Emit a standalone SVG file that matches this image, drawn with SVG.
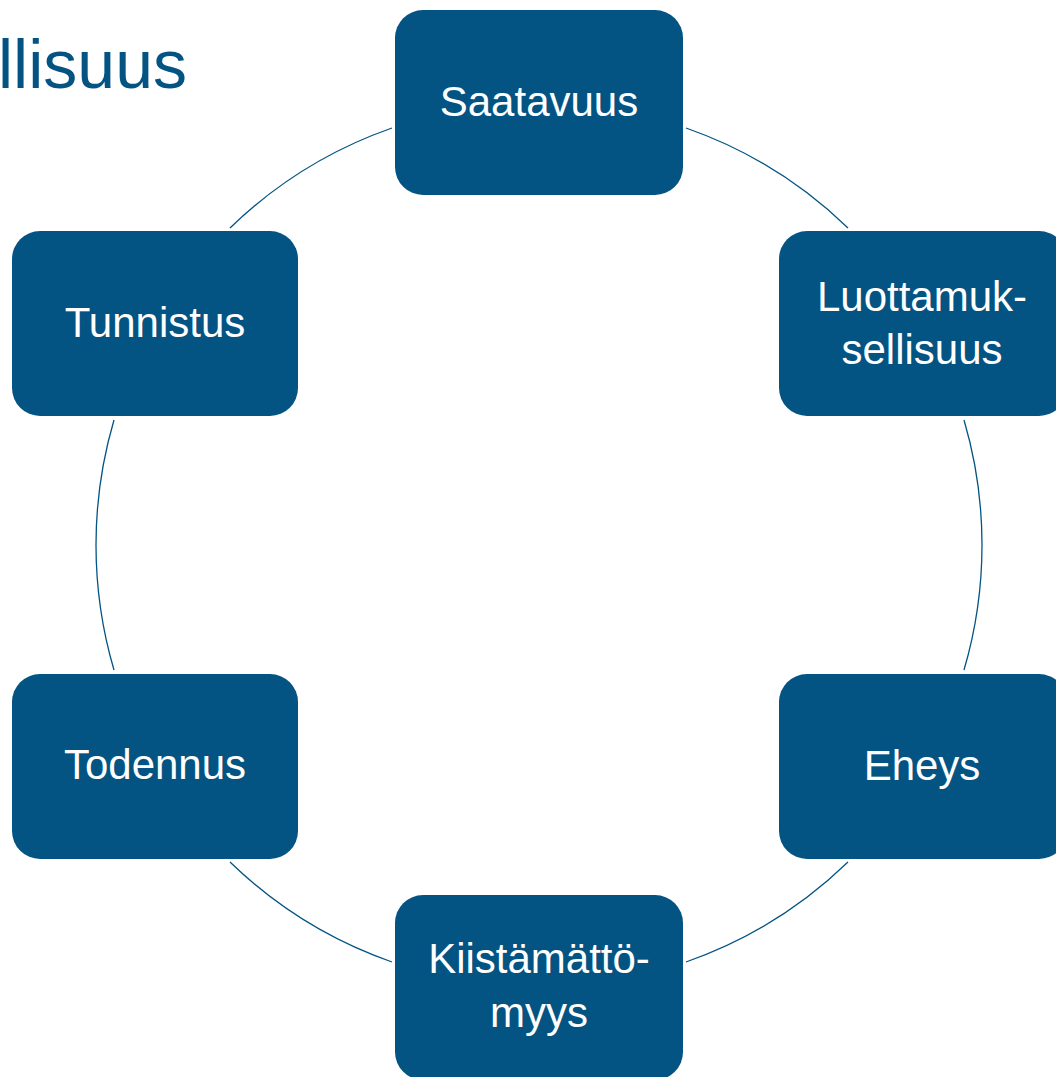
<svg xmlns="http://www.w3.org/2000/svg" width="1056" height="1077" viewBox="0 0 1056 1077">
<style>
.box{fill:#035483;}
.lbl{fill:#ffffff;font-family:"Liberation Sans",Arial,sans-serif;font-size:42px;text-anchor:middle;}
.arc{fill:none;stroke:#035483;stroke-width:1.3;}
.title{fill:#035483;font-family:"Liberation Sans",Arial,sans-serif;font-size:68px;}
</style>
<rect width="1056" height="1077" fill="#ffffff"/>
<text class="title" x="-2" y="88">llisuus</text>
<g id="connectors">
<path class="arc" d="M686,128 A443,443 0 0 1 848,228"/>
<path class="arc" d="M964,420 A443,443 0 0 1 964,670"/>
<path class="arc" d="M848,862 A443,443 0 0 1 686,962"/>
<path class="arc" d="M392,962 A443,443 0 0 1 230,862"/>
<path class="arc" d="M114,670 A443,443 0 0 1 114,420"/>
<path class="arc" d="M230,228 A443,443 0 0 1 392,128"/>
</g>
<g id="saatavuus">
<rect class="box" x="395" y="10" width="288" height="185" rx="28"/>
<text class="lbl" x="539" y="116">Saatavuus</text>
</g>
<g id="luottamuksellisuus">
<rect class="box" x="779" y="231" width="288" height="185" rx="28"/>
<text class="lbl" x="922" y="311">Luottamuk-</text>
<text class="lbl" x="922" y="364">sellisuus</text>
</g>
<g id="eheys">
<rect class="box" x="779" y="674" width="288" height="185" rx="28"/>
<text class="lbl" x="922" y="780">Eheys</text>
</g>
<g id="kiistamattomyys">
<rect class="box" x="395" y="895" width="288" height="185" rx="28"/>
<text class="lbl" x="539" y="973">Kiistämättö-</text>
<text class="lbl" x="539" y="1027">myys</text>
</g>
<g id="todennus">
<rect class="box" x="12" y="674" width="286" height="185" rx="28"/>
<text class="lbl" x="155" y="779">Todennus</text>
</g>
<g id="tunnistus">
<rect class="box" x="12" y="231" width="286" height="185" rx="28"/>
<text class="lbl" x="155" y="337">Tunnistus</text>
</g>
</svg>
